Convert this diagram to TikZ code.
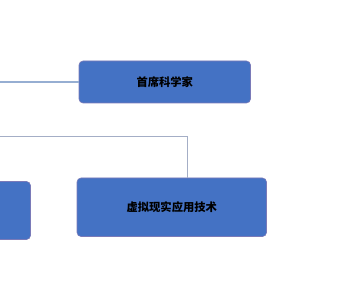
\documentclass[tikz,border=0pt]{standalone}
\usepackage{fontspec}
\newfontfamily\cjk{Noto Sans CJK SC}
\begin{document}
\begin{tikzpicture}[x=1pt,y=-1pt,
  blk/.style={draw=blue!30!gray!80, line width=0.6pt, fill=boxblue, rounded corners=4pt},
  lbl/.style={font=\cjk\bfseries\fontsize{11.3}{13}\selectfont, text=black, inner sep=0pt},
  link/.style={draw=linkcol, line width=1.3pt},
  thinlink/.style={draw=thincol, line width=0.7pt}]
\definecolor{boxblue}{HTML}{4472C4}
\definecolor{linkcol}{HTML}{96AED2}
\definecolor{thincol}{HTML}{A4AEC6}
\useasboundingbox (0,0) rectangle (351,302);
\path[blk] (79,61) rectangle (250.5,103);
\node[lbl] (a) at (164.75,82) {首席科学家};
\path[blk] (77,178) rectangle (266.5,236.5);
\node[lbl] (b) at (171.75,207.5) {虚拟现实应用技术};
\path[blk] (-10,181.5) rectangle (30.5,239.5);
\coordinate (l1) at (0,82);
\coordinate (e1) at (79,82);
\coordinate (l2) at (0,136);
\coordinate (c2) at (187,136);
\coordinate (e2) at (187,178);
\draw[link] (l1) -- (e1);
\draw[thinlink] (l2) -- (c2) -- (e2);
\end{tikzpicture}
\end{document}
